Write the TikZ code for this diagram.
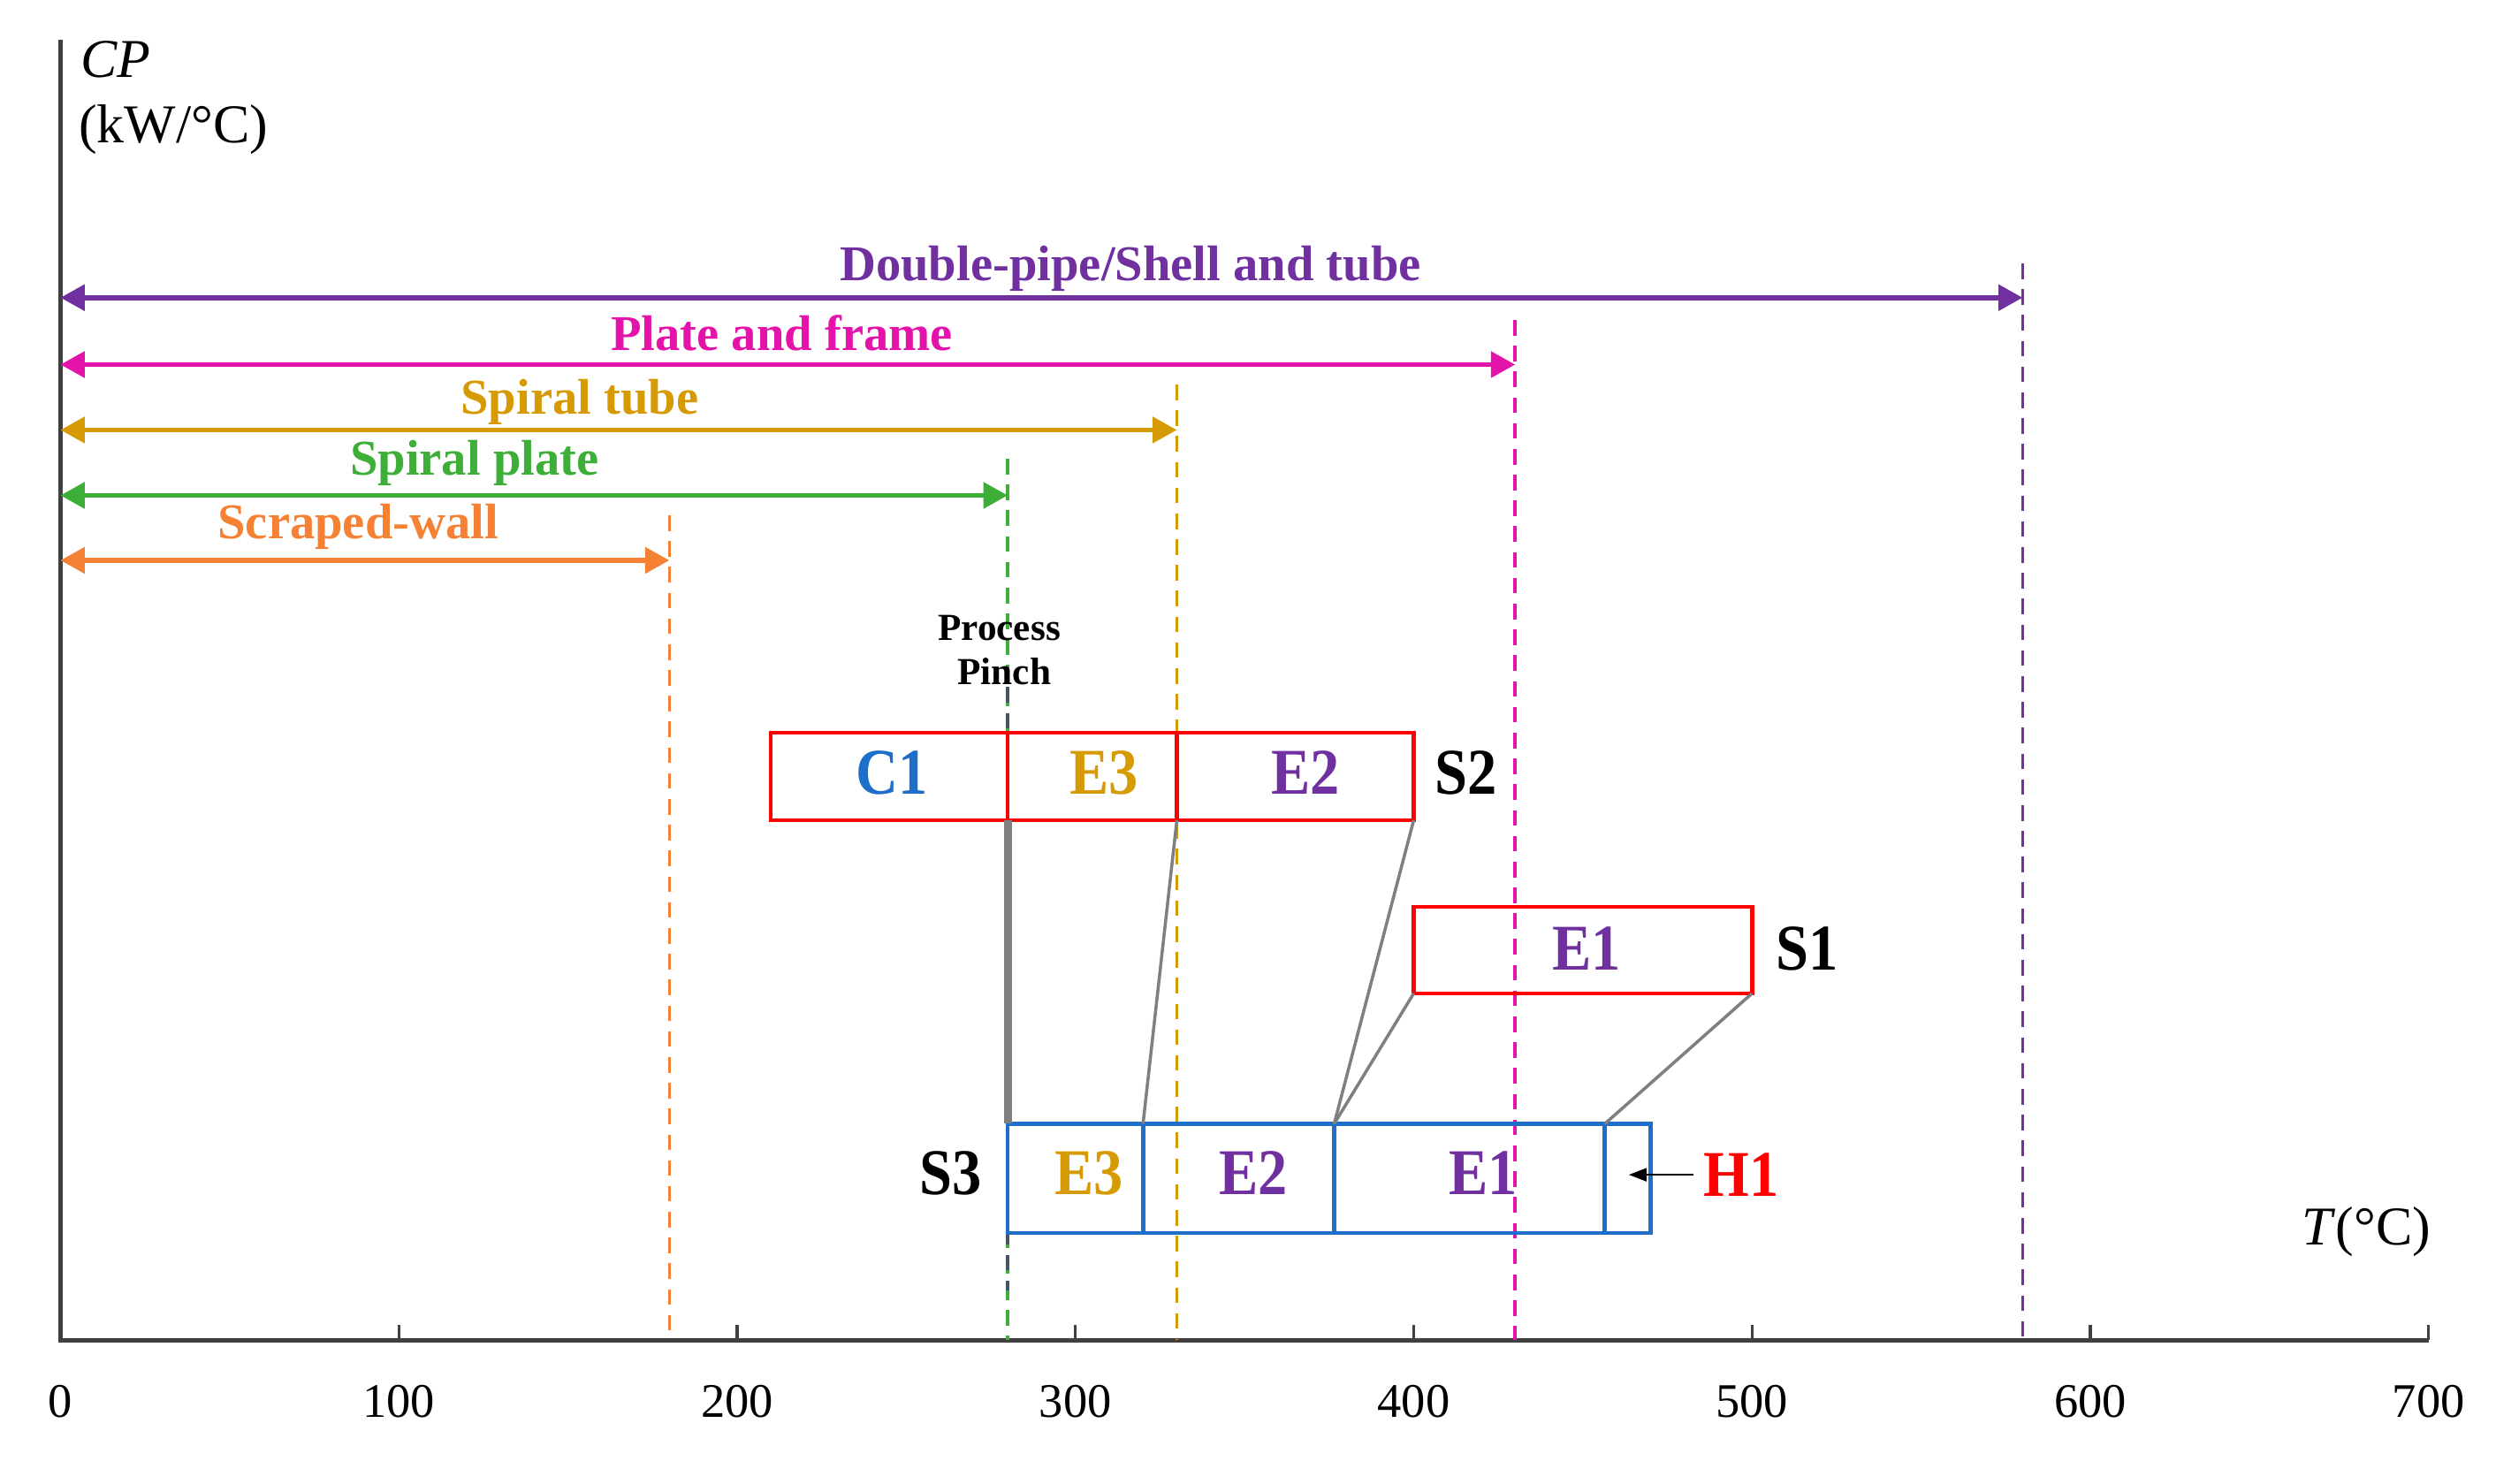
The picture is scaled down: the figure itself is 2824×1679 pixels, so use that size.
\documentclass[tikz,border=0pt]{standalone}
\usepackage{fontspec}
\setmainfont{Liberation Serif}
\newfontfamily\boxfont[FakeStretch=0.9]{Liberation Serif}
\usetikzlibrary{arrows.meta,fit}
\definecolor{cpurp}{HTML}{7030A0}
\definecolor{cmag}{HTML}{E414AA}
\definecolor{cgold}{HTML}{D69A04}
\definecolor{cgreen}{HTML}{3DAE37}
\definecolor{corange}{HTML}{F58234}
\definecolor{cblue}{HTML}{1E6FCA}
\definecolor{cred}{HTML}{FF0000}
\definecolor{cgray}{HTML}{7F7F7F}
\definecolor{axgray}{HTML}{404040}
\definecolor{pinchc}{HTML}{44546A}
\begin{document}
\begin{tikzpicture}[x=0.01cm,y=0.01cm,
  every node/.style={inner sep=0pt, outer sep=0pt},
  axisline/.style={draw=axgray, line width=1.3pt},
  tickmark/.style={draw=axgray, line width=0.9pt},
  ticklab/.style={anchor=base, font=\fontsize{15.5}{18}\selectfont},
  axlab/.style={font=\fontsize{17.6}{20}\selectfont},
  rangearrow/.style={line width=1.6pt, {Triangle[length=7.8pt,width=8.2pt]}-{Triangle[length=7.8pt,width=8.2pt]}},
  rangelab/.style={anchor=base, font=\bfseries\fontsize{16.1}{19}\selectfont},
  vdashed/.style={line width=1.05pt, dash pattern=on 5pt off 3.3pt},
  redcell/.style={draw=cred, line width=1.3pt},
  bluecell/.style={draw=cblue, line width=1.3pt},
  celllab/.style={anchor=base, font=\boxfont\bfseries\fontsize{21}{24}\selectfont},
  pinchlab/.style={anchor=base, font=\bfseries\fontsize{12.3}{14}\selectfont},
  conthin/.style={draw=cgray, line width=1pt},
  conthick/.style={draw=cgray, line width=2.6pt},
  h1arrow/.style={draw=black, line width=0.7pt, -{Triangle[length=5.7pt,width=4.2pt]}},
]
\useasboundingbox (0,0) rectangle (2824,1679);
\begin{scope}[shift={(68.4,162.5)}, x=0.03826cm]
  % axes
  \coordinate (origin) at (0,0);
  \coordinate (ytop) at (0,1471.5);
  \coordinate (xend) at (700,0);
  \draw[axisline] (ytop) -- (origin) -- (xend);
  \foreach \t in {100,200,...,700} {
    \draw[tickmark] (\t,0) -- (\t,17);
  }
  \foreach \t in {0,100,...,700} {
    \node[ticklab] (tl\t) at (\t,-87.5) {\t};
  }
  \node[axlab, anchor=base west] (cplab) at (5.98,1428.5) {\textit{CP}};
  \node[axlab, anchor=base west] (cpunit) at (5.4,1354.5) {(kW/°C)};
  \node[axlab, anchor=base east] (tlab) at (700.6,107.5) {\textit{T}(°C)};

  % dashed limits
  \coordinate (dP) at (580,1218.5); \coordinate (dPb) at (580,0);
  \coordinate (dM) at (430,1154.5); \coordinate (dMb) at (430,0);
  \coordinate (dG) at (330,1081.5); \coordinate (dGb) at (330,0);
  \coordinate (dN) at (280,997.5);  \coordinate (dNb) at (280,0);
  \coordinate (dO) at (180,933.5);  \coordinate (dOb) at (180,0);
  \draw[vdashed, cpurp] (dP) -- (dPb);
  \draw[vdashed, cmag] (dM) -- (dMb);
  \draw[vdashed, cgold] (dG) -- (dGb);
  \draw[vdashed, cgreen] (dN) -- (dNb);
  \draw[vdashed, corange] (dO) -- (dOb);
  % pinch line
  \coordinate (pinchT) at (280,739);
  \coordinate (pinchB) at (280,56.5);
  \draw[vdashed, pinchc] (pinchT) -- (pinchB);

  % range arrows
  \coordinate (aPl) at (0,1179.7); \coordinate (aPr) at (580,1179.7);
  \coordinate (aMl) at (0,1104);   \coordinate (aMr) at (430,1104);
  \coordinate (aGl) at (0,1030);   \coordinate (aGr) at (330,1030);
  \coordinate (aNl) at (0,956);    \coordinate (aNr) at (280,956);
  \coordinate (aOl) at (0,882.5);  \coordinate (aOr) at (180,882.5);
  \draw[rangearrow, cpurp] (aPl) -- (aPr);
  \draw[rangearrow, cmag] (aMl) -- (aMr);
  \draw[rangearrow, cgold] (aGl) -- (aGr);
  \draw[rangearrow, cgreen] (aNl) -- (aNr);
  \draw[rangearrow, corange] (aOl) -- (aOr);
  \node[rangelab, text=cpurp] (lP) at (316.3,1198.5) {Double-pipe/Shell and tube};
  \node[rangelab, text=cmag] (lM) at (213.2,1119.5) {Plate and frame};
  \node[rangelab, text=cgold] (lG) at (153.5,1047.5) {Spiral tube};
  \node[rangelab, text=cgreen] (lN) at (122.4,978.5) {Spiral plate};
  \node[rangelab, text=corange] (lO) at (88,906.5) {Scraped-wall};

  % process pinch label
  \node[pinchlab] (pinchA) at (277.5,791.5) {Process};
  \node[pinchlab] (pinchB2) at (279,741.5) {Pinch};

  % cells
  \node[redcell, fit={(210,588.5) (280,687.5)}] (c1) {};
  \node[redcell, fit={(280,588.5) (330,687.5)}] (e3a) {};
  \node[redcell, fit={(330,588.5) (400,687.5)}] (e2a) {};
  \node[redcell, fit={(400,392.5) (500,490.5)}] (e1a) {};
  \node[bluecell, fit={(280,121.5) (320,245)}] (e3b) {};
  \node[bluecell, fit={(320,121.5) (376.5,245)}] (e2b) {};
  \node[bluecell, fit={(376.5,121.5) (456.5,245)}] (e1b) {};
  \node[bluecell, fit={(456.5,121.5) (470,245)}] (h1c) {};

  % connectors
  \draw[conthick] (c1.south east) -- (e3b.north west);
  \draw[conthin] (e3a.south east) -- (e3b.north east);
  \draw[conthin] (e2a.south east) -- (e2b.north east);
  \draw[conthin] (e1a.south west) -- (e2b.north east);
  \draw[conthin] (e1a.south east) -- (e1b.north east);

  % cell labels
  \node[celllab, text=cblue] (tc1) at (245.8,617.5) {C1};
  \node[celllab, text=cgold] (te3a) at (308.5,617.5) {E3};
  \node[celllab, text=cpurp] (te2a) at (368,617.5) {E2};
  \node[celllab, anchor=base west] (ts2) at (406.2,617.5) {S2};
  \node[celllab, text=cpurp] (te1a) at (451.1,419) {E1};
  \node[celllab, anchor=base west] (ts1) at (507.1,419) {S1};
  \node[celllab, anchor=base east] (ts3) at (272.4,164.5) {S3};
  \node[celllab, text=cgold] (te3b) at (304,164.5) {E3};
  \node[celllab, text=cpurp] (te2b) at (352.6,164.5) {E2};
  \node[celllab, text=cpurp] (te1b) at (420.5,164.5) {E1};
  \node[celllab, anchor=base west, text=cred] (th1) at (485.8,163) {H1};
  \coordinate (h1tip) at (463.6,185.5);
  \draw[h1arrow] ([xshift=-3.4pt]th1.west) -- (th1.west -| h1tip);
\end{scope}
\end{tikzpicture}
\end{document}
